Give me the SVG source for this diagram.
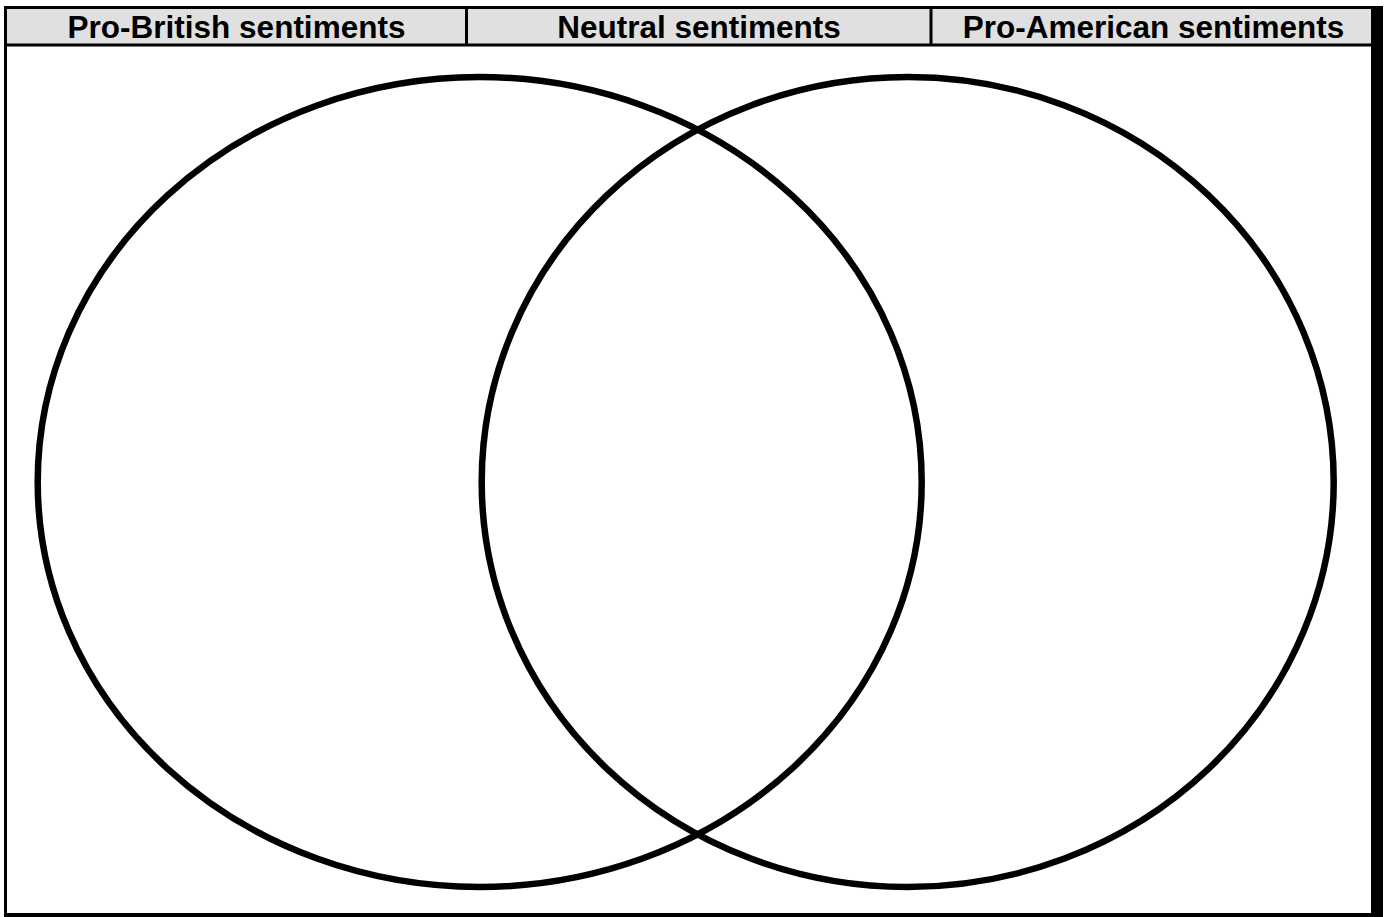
<svg xmlns="http://www.w3.org/2000/svg" width="1385" height="917" viewBox="0 0 1385 917">
<style>
.hdr{font-family:"Liberation Sans",Arial,sans-serif;font-weight:bold;font-size:31.5px;fill:#000;text-anchor:middle}
.ring{fill:none;stroke:#000;stroke-width:6.5}
.ln{stroke:#000;stroke-width:3}
</style>
<rect x="0" y="0" width="1385" height="917" fill="#fff"/>
<g id="header">
<rect x="5.5" y="7.5" width="1366" height="37.5" fill="#e0e0e0"/>
<line class="ln" x1="4" y1="7.5" x2="1372" y2="7.5"/>
<line class="ln" x1="4" y1="45" x2="1372" y2="45"/>
<line class="ln" x1="466.5" y1="7.5" x2="466.5" y2="45"/>
<line class="ln" x1="931" y1="7.5" x2="931" y2="45"/>
<text class="hdr" x="236.5" y="38">Pro-British sentiments</text>
<text class="hdr" x="699" y="38">Neutral sentiments</text>
<text class="hdr" x="1153.5" y="38">Pro-American sentiments</text>
</g>
<g id="frame">
<line class="ln" x1="5.5" y1="6" x2="5.5" y2="917"/>
<line x1="4" y1="915" x2="1372" y2="915" stroke="#000" stroke-width="4"/>
<rect x="1371" y="6" width="12" height="911" fill="#000"/>
</g>
<g id="left-circle"><ellipse class="ring" cx="479.7" cy="482" rx="442" ry="405"/></g>
<g id="right-circle"><ellipse class="ring" cx="907.7" cy="482" rx="426" ry="405"/></g>
<g id="connectors"></g>
</svg>
